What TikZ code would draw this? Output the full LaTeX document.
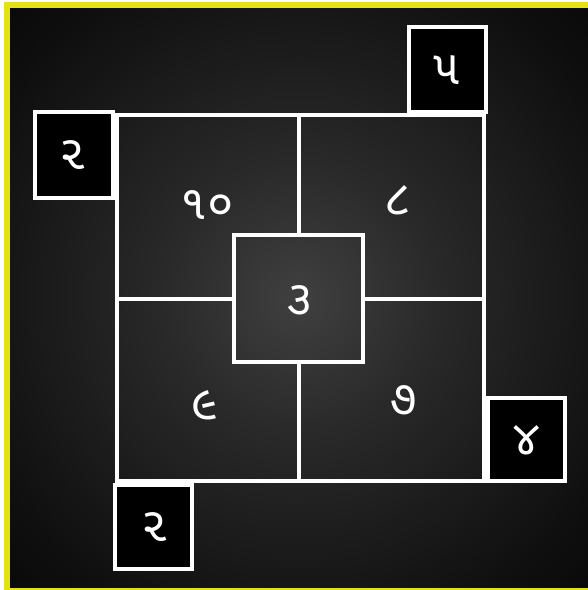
\documentclass[tikz,border=0pt]{standalone}
\usepackage{fontspec}
\newfontfamily\guj[Script=Gujarati]{Noto Sans Gujarati UI}
\pgfdeclareradialshading{glow}{\pgfpoint{0bp}{0bp}}{rgb(0bp)=(0.25,0.25,0.25); rgb(12bp)=(0.16,0.16,0.16); rgb(30bp)=(0.06,0.06,0.06); rgb(42bp)=(0.01,0.01,0.01); rgb(50bp)=(0,0,0)}
\definecolor{frameyellow}{RGB}{226,226,20}
\begin{document}
\begin{tikzpicture}[x=1pt,y=-1pt,
  box/.style={draw=white, line width=4pt, inner sep=0pt, minimum width=#1},
  num/.style={text=white, font=\guj\fontsize{48}{52}\selectfont, inner sep=0pt}]
\useasboundingbox (0,0) rectangle (588,590);
\fill[white] (0,0) rectangle (588,590);
\fill[frameyellow] (4,2) rectangle (588,590);
\shade[shading=glow] (10,8) rectangle (588,587);
% main square and centre
\node[box=367pt, minimum height=366pt] (main) at (300.5,298) {};
\node[box=129pt, minimum height=127pt] (mid) at (298.5,298.5) {};
\draw[white, line width=4pt] (mid.north) -- (mid.north |- main.north);
\draw[white, line width=4pt] (mid.south) -- (mid.south |- main.south);
\draw[white, line width=4pt] (mid.west) -- (mid.west -| main.west);
\draw[white, line width=4pt] (mid.east) -- (mid.east -| main.east);
% corner boxes
\node[box=77pt, minimum height=85pt, fill=black] (b5) at (447.5,69.5) {};
\node[box=78pt, minimum height=86pt, fill=black] (b2a) at (74,155) {};
\node[box=77pt, minimum height=83pt, fill=black] (b4) at (526.5,439.5) {};
\node[box=77pt, minimum height=84pt, fill=black] (b2b) at (153.5,527) {};
% numbers
\node[num] (t5) at (447,70) {૫};
\node[num] (t2a) at (73,155) {૨};
\node[num] (t10) at (207,205) {૧૦};
\node[num] (t8) at (398,200) {૮};
\node[num] (t3) at (300,300) {૩};
\node[num] (t9) at (205,405) {૯};
\node[num] (t7) at (404,400) {૭};
\node[num] (t4) at (527,440) {૪};
\node[num] (t2b) at (155,527) {૨};
\end{tikzpicture}
\end{document}
